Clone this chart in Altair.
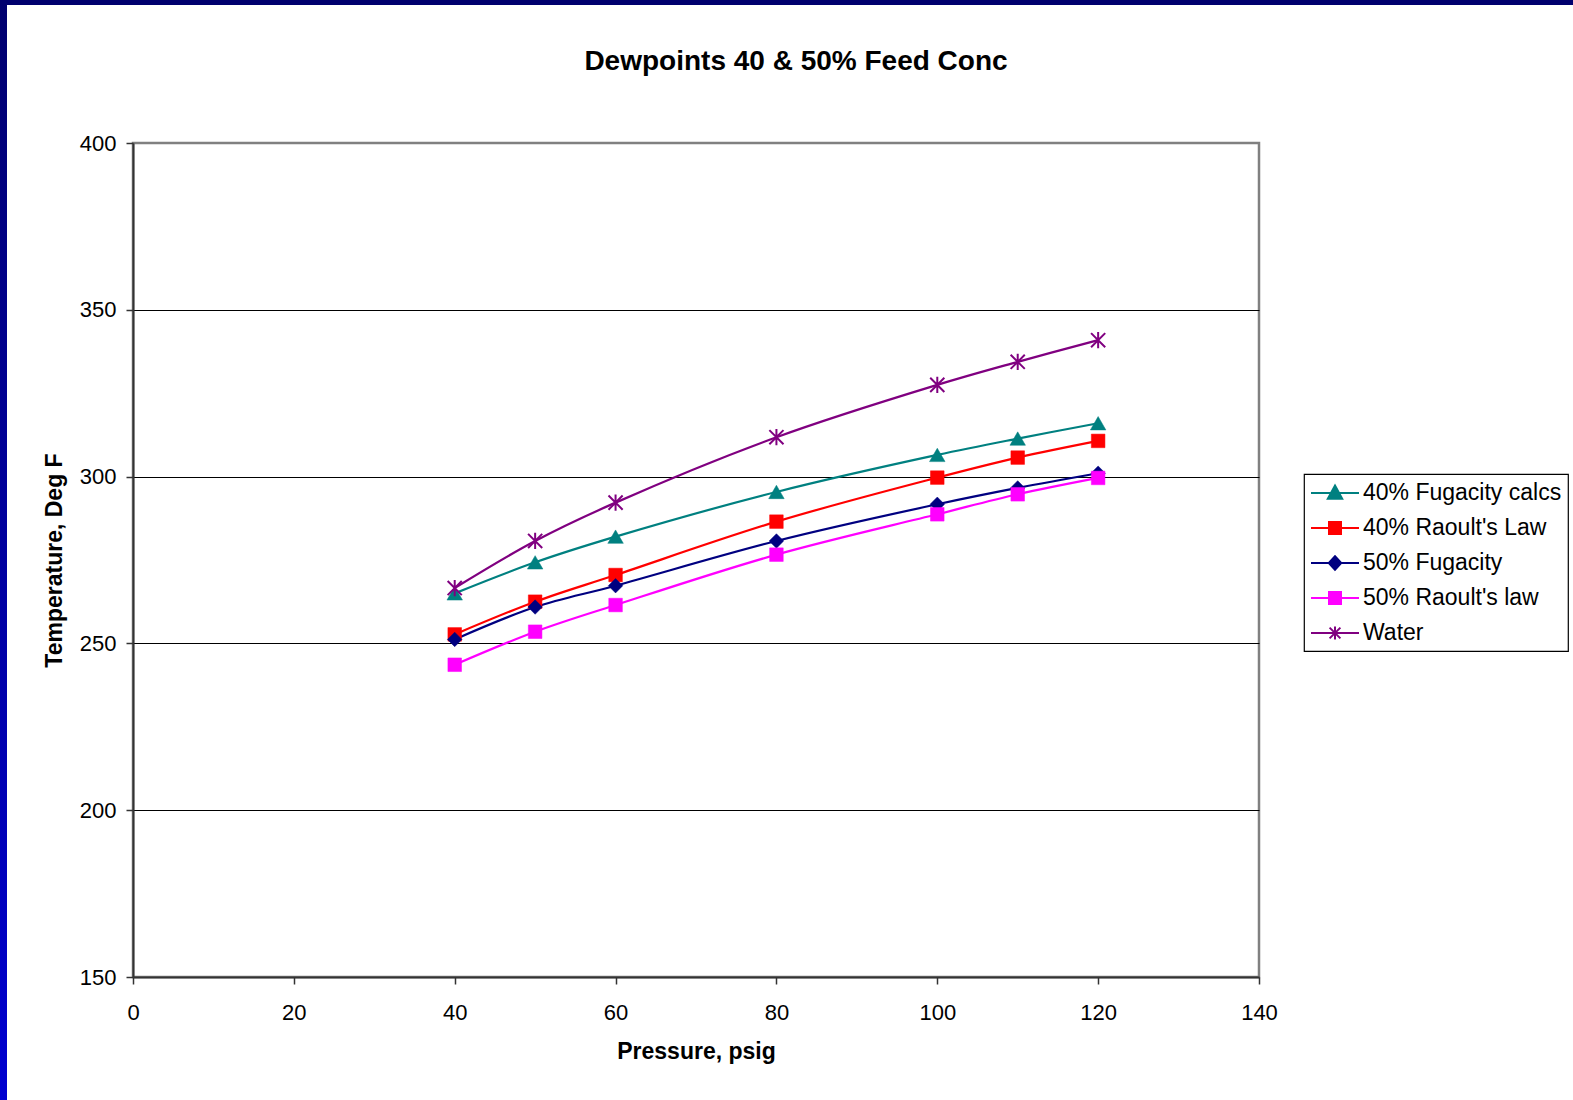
import altair as alt
import pandas as pd

pressure = [40, 50, 60, 80, 100, 110, 120]
series = ["40% Fugacity calcs", "40% Raoult's Law", "50% Fugacity", "50% Raoult's law", "Water"]
fug40 = [265.0, 274.3, 282.0, 295.4, 306.5, 311.4, 316.0]
raoult40 = [252.7, 262.5, 270.5, 286.5, 299.7, 305.7, 310.7]
fug50 = [251.2, 260.9, 267.3, 280.7, 291.7, 296.6, 301.0]
raoult50 = [243.6, 253.5, 261.5, 276.6, 288.7, 294.7, 299.6]
water = [266.6, 280.7, 292.2, 311.8, 327.5, 334.4, 340.9]
values = [fug40, raoult40, fug50, raoult50, water]
colors = ["#008080", "#FF0000", "#000080", "#FF00FF", "#800080"]
x_ticks = [0, 20, 40, 60, 80, 100, 120, 140]
y_ticks = [150, 200, 250, 300, 350, 400]

FONT = "Liberation Sans"
W, H = 1126, 834
PL, PT = 133, 143
TOTAL_W, TOTAL_H = 1573, 1100

rows = []
for s, vals in zip(series, values):
    for p, v in zip(pressure, vals):
        rows.append({"series": s, "pressure": p, "temp": v})
df = pd.DataFrame(rows)

ASTER = "M-1,-1L1,1M-1,1L1,-1M0,-1.15L0,1.15"
plot_shapes = ["triangle-up", "square", "diamond", "square", ASTER]
plot_sizes = [240, 185, 210, 185, 200]

# legend symbols: nominal size 24px (r=12), paths drawn at 2x to include a 48px line
legend_shapes = [
    "M-2,0H2M0,-0.62L0.6,0.48L-0.6,0.48Z",
    "M-2,0H2M-0.5,-0.5H0.5V0.5H-0.5Z",
    "M-2,0H2M0,-0.56L0.52,0L0,0.56L-0.52,0Z",
    "M-2,0H2M-0.5,-0.5H0.5V0.5H-0.5Z",
    "M-2,0H2M-0.45,-0.45L0.45,0.45M-0.45,0.45L0.45,-0.45M0,-0.55L0,0.55",
]

x_enc = alt.X(
    "pressure:Q",
    scale=alt.Scale(domain=[0, 140], nice=False, zero=False),
    axis=alt.Axis(
        values=x_ticks, grid=False, title="Pressure, psig", labelFlush=False,
        labelFont=FONT, labelFontSize=22, labelColor="black", labelPadding=18,
        tickSize=7, tickColor="#333333", tickWidth=1.5,
        domainColor="#333333", domainWidth=2,
        titleFont=FONT, titleFontSize=23, titleFontWeight="bold", titleColor="black",
        titleY=81, titleBaseline="alphabetic",
    ),
)
y_enc = alt.Y(
    "temp:Q",
    scale=alt.Scale(domain=[150, 400], nice=False, zero=False),
    axis=alt.Axis(
        values=y_ticks, grid=True, gridColor="black", gridWidth=1, labelFlush=False,
        gridOpacity={"condition": {"test": "datum.value == 400 || datum.value == 150", "value": 0}, "value": 1},
        title="Temperature, Deg F",
        labelFont=FONT, labelFontSize=22, labelColor="black", labelPadding=10,
        tickSize=7, tickColor="#333333", tickWidth=1.5,
        domainColor="#333333", domainWidth=2,
        titleFont=FONT, titleFontSize=23, titleFontWeight="bold", titleColor="black",
        titleAngle=270, titleX=-72, titleY=H / 2, titleBaseline="alphabetic", titleAlign="center",
    ),
)

base = alt.Chart(df)
layers = []
for i, s in enumerate(series):
    sub = base.transform_filter(alt.datum.series == s)
    layers.append(
        sub.mark_line(interpolate="catmull-rom", color=colors[i], strokeWidth=2.2).encode(x=x_enc, y=y_enc)
    )
for i, s in enumerate(series):
    sub = base.transform_filter(alt.datum.series == s)
    is_aster = plot_shapes[i] == ASTER
    layers.append(
        sub.mark_point(
            shape=plot_shapes[i], size=plot_sizes[i], filled=not is_aster,
            color=colors[i], stroke=colors[i], strokeWidth=2 if is_aster else 0.5, opacity=1,
        ).encode(x=x_enc, y=y_enc)
    )

leg = alt.Legend(
    title=None, orient="none", legendX=1171, legendY=331,
    fillColor="white", strokeColor="black", padding=6,
    labelFont=FONT, labelFontSize=23, labelColor="black", labelOffset=15,
    symbolSize=576, symbolOffset=12, symbolStrokeWidth=2, symbolOpacity=1,
    rowPadding=10, labelLimit=400,
)
legend_layer = base.transform_filter("false").mark_point(filled=True, strokeWidth=2, opacity=1).encode(
    color=alt.Color("series:N", scale=alt.Scale(domain=series, range=colors), legend=leg, sort=series),
    stroke=alt.Stroke("series:N", scale=alt.Scale(domain=series, range=colors), legend=leg, sort=series),
    shape=alt.Shape("series:N", scale=alt.Scale(domain=series, range=legend_shapes), legend=leg, sort=series),
)
layers.append(legend_layer)

one = alt.Data(values=[{"k": 1}])
top_bar = alt.Chart(one).mark_rect(color="#00006E").encode(
    x=alt.value(-PL), x2=alt.value(TOTAL_W - PL), y=alt.value(-PT), y2=alt.value(-PT + 5)
)
left_bar = alt.Chart(one).mark_rect(
    fill=alt.Gradient(
        gradient="linear",
        stops=[alt.GradientStop(color="#00006E", offset=0), alt.GradientStop(color="#0000D0", offset=1)],
        x1=0, y1=0, x2=0, y2=1,
    )
).encode(x=alt.value(-PL), x2=alt.value(-PL + 7), y=alt.value(-PT), y2=alt.value(TOTAL_H - PT))
layers += [top_bar, left_bar]

chart = alt.layer(*layers).properties(
    width=W, height=H,
    autosize="none",
    padding={"left": PL, "top": PT, "right": TOTAL_W - PL - W, "bottom": TOTAL_H - PT - H},
    background="white",
    title=alt.TitleParams(
        "Dewpoints 40 & 50% Feed Conc", font=FONT, fontSize=28, fontWeight="bold", color="black",
        anchor="middle", dx=100, dy=98, offset=0, baseline="alphabetic",
    ),
).configure_view(stroke="#808080", strokeWidth=2.5).configure_legend(strokeWidth=1.2)

chart.save("out.html", embed_options={"renderer": "svg", "actions": False})
